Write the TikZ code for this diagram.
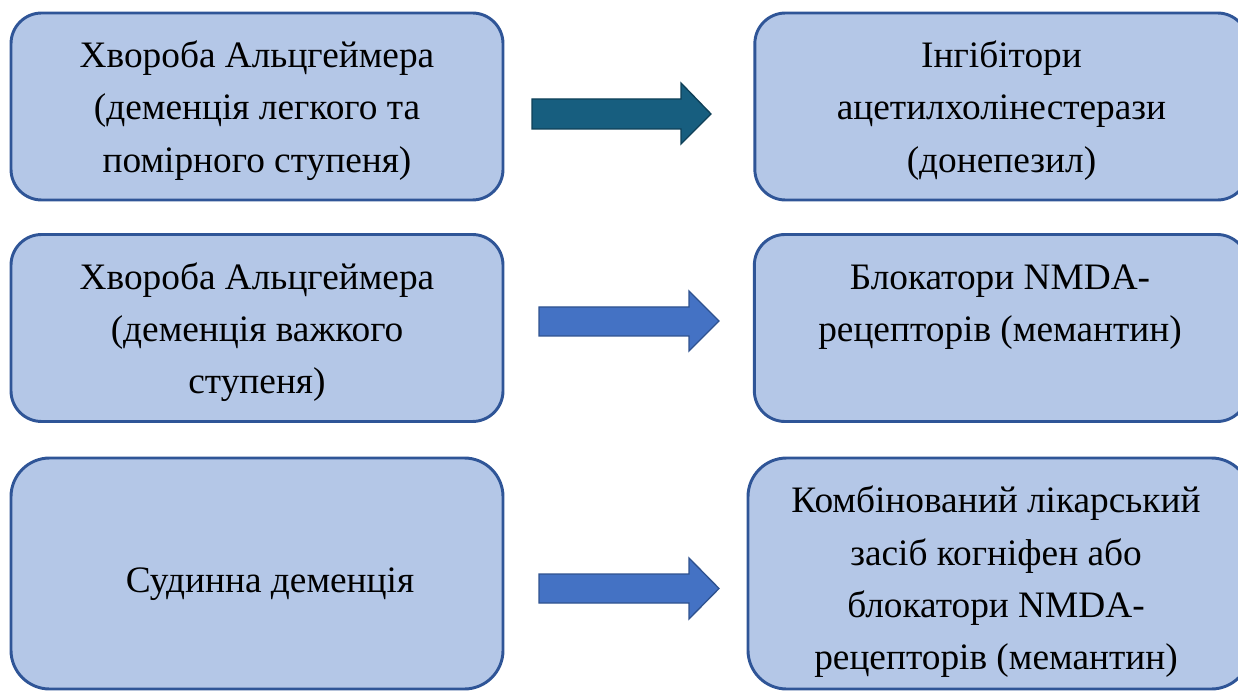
\documentclass[tikz,border=0pt]{standalone}
\usepackage{fontspec}
\setmainfont{Liberation Serif}
\definecolor{boxfill}{HTML}{B4C7E7}
\definecolor{boxline}{HTML}{2F5597}
\definecolor{arrA}{HTML}{175E7F}
\definecolor{arrAline}{HTML}{0F4058}
\definecolor{arrB}{HTML}{4472C4}
\definecolor{arrBline}{HTML}{2F528F}
\tikzset{
  box/.style={draw=boxline, fill=boxfill, line width=2.2pt, rectangle, inner sep=0pt},
  txt/.style={inner sep=0pt, align=center, font=\fontsize{28}{39.2}\selectfont},
  blockarrow/.style={line width=1pt, line join=miter}
}
\begin{document}
\begin{tikzpicture}[x=0.75pt,y=-0.75pt]
\useasboundingbox (0,0) rectangle (1238,691);
\begin{scope}
\clip (0,0) rectangle (1238,691);
% left boxes
\node[box, minimum width=369pt, minimum height=140.25pt, rounded corners=23pt] (l1) at (257,106.5) {};
\node[txt] (t1) at (257,110.5) {Хвороба Альцгеймера\\(деменція легкого та\\помірного ступеня)};
\node[box, minimum width=369pt, minimum height=140.25pt, rounded corners=23pt] (l2) at (257,328) {};
\node[txt] (t2) at (257,332) {Хвороба Альцгеймера\\(деменція важкого\\ступеня)};
\node[box, minimum width=369pt, minimum height=173.25pt, rounded corners=29pt] (l3) at (257,573.5) {};
\node[txt] (t3) at (270,584) {Судинна деменція};
% right boxes
\node[box, minimum width=370pt, minimum height=140.25pt, rounded corners=23pt] (r1) at (1001.5,106.5) {};
\node[txt] (tr1) at (1001.5,110.5) {Інгібітори\\ацетилхолінестерази\\(донепезил)};
\node[box, minimum width=370pt, minimum height=140.25pt, rounded corners=23pt] (r2) at (1001,328) {};
\node[txt] (tr2) at (1000,307.5) {Блокатори NMDA-\\рецепторів (мемантин)};
\node[box, minimum width=376.5pt, minimum height=173.25pt, rounded corners=29pt] (r3) at (999,573.5) {};
\node[txt] (tr3) at (996,582) {Комбінований лікарський\\засіб когніфен або\\блокатори NMDA-\\рецепторів (мемантин)};
\end{scope}
% block arrows
\draw[blockarrow, fill=arrA, draw=arrAline]
  (532,99) -- (681,99) -- (681,83) -- (711,114) -- (681,144) -- (681,129) -- (532,129) -- cycle;
\draw[blockarrow, fill=arrB, draw=arrBline]
  (539,307) -- (689,307) -- (689,291) -- (719,321) -- (689,351) -- (689,336) -- (539,336) -- cycle;
\draw[blockarrow, fill=arrB, draw=arrBline]
  (539,574) -- (689,574) -- (689,558) -- (719,588.5) -- (689,619) -- (689,603) -- (539,603) -- cycle;
\end{tikzpicture}
\end{document}
